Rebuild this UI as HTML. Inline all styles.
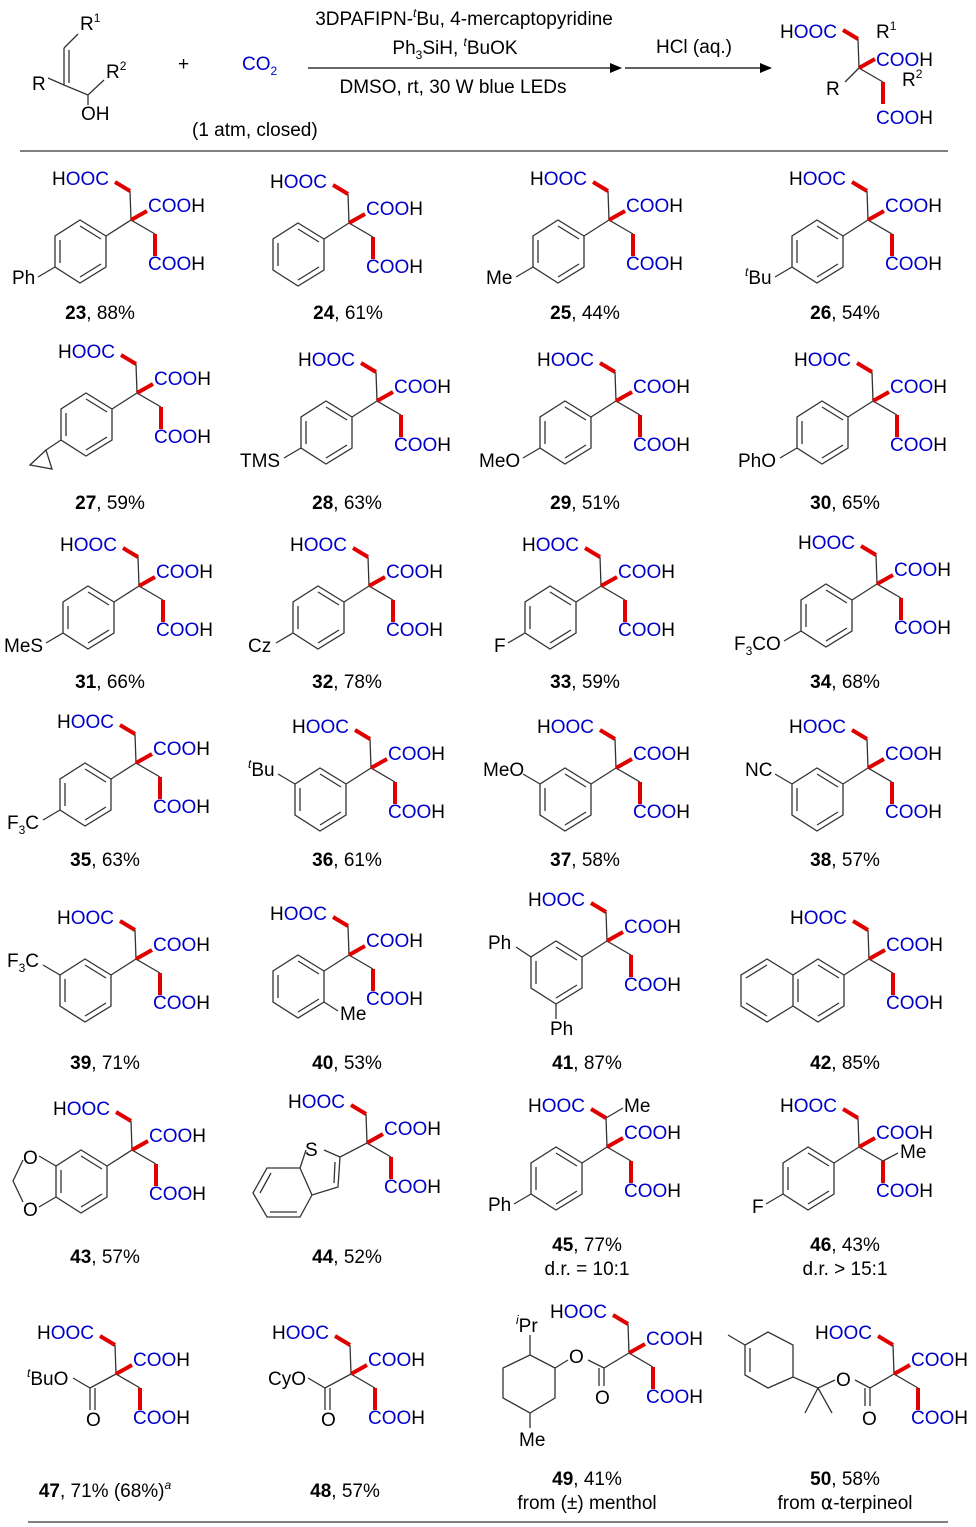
<!DOCTYPE html>
<html><head><meta charset="utf-8"><style>
html,body{margin:0;padding:0;background:#fff;}
svg{display:block;font-family:"Liberation Sans",Arial,sans-serif;}
.t{font-size:19px;fill:#000;}
.b{fill:#0000cc;}
.k{fill:#000;}
.lab{font-size:19px;fill:#000;text-anchor:middle;}
.g{stroke:#333;stroke-width:1.3;fill:none;}
.r{stroke:#e00000;stroke-width:4;fill:none;}
</style></head><body>
<svg width="976" height="1527" viewBox="0 0 976 1527" xmlns="http://www.w3.org/2000/svg">
<defs>
<g id="k">
<path class="r" d="M115 182 L130 191"/>
<path class="g" d="M130 191 L131 220 L155 234"/>
<path class="r" d="M131 220 L147 211"/>
<path class="r" d="M155 234 L155 256"/>
</g>
<g id="ring">
<path class="g" d="M131 220 L106 236"/>
<path class="g" d="M106 236 L80 220 L55 236 L55 267 L80 283 L106 267 Z"/>
<path class="g" d="M80 226 L101 239 M60 240 L60 263 M80 277 L101 264"/>
</g>
<g id="para"><use href="#ring"/><path class="g" d="M55 267 L38 277"/></g>
<g id="meta"><use href="#ring"/><path class="g" d="M55 236 L38 226"/></g>
</defs>

<!-- header -->
<g class="t">
<path class="g" d="M64 48 L64 85 M69 50 L69 83"/>
<path class="g" d="M64 48 L70 42 Q74 38 78 34"/>
<path class="g" d="M64 85 L48 78 M64 85 L88 95 L104 80 M88 95 L88 105"/>
<text x="80" y="30">R<tspan font-size="12" dy="-8">1</tspan></text>
<text x="106" y="78">R<tspan font-size="12" dy="-8">2</tspan></text>
<text x="32" y="90">R</text>
<text x="81" y="120">OH</text>
<text x="178" y="70">+</text>
<text x="242" y="70" class="b">CO<tspan font-size="12" dy="5">2</tspan></text>
<text x="192" y="136">(1 atm, closed)</text>
<text x="464" y="25" text-anchor="middle">3DPAFIPN-<tspan font-size="12" dy="-8" font-style="italic">t</tspan><tspan dy="8">Bu, 4-mercaptopyridine</tspan></text>
<text x="455" y="54" text-anchor="middle">Ph<tspan font-size="12" dy="5">3</tspan><tspan dy="-5">SiH, </tspan><tspan font-size="12" dy="-8" font-style="italic">t</tspan><tspan dy="8">BuOK</tspan></text>
<text x="453" y="93" text-anchor="middle">DMSO, rt, 30 W blue LEDs</text>
<path d="M308 68 L612 68" stroke="#666" stroke-width="2"/>
<path d="M622 68 L610 63 L610 73 Z" fill="#000"/>
<text x="694" y="53" text-anchor="middle">HCl (aq.)</text>
<path d="M625 68 L762 68" stroke="#000" stroke-width="1.3"/>
<path d="M772 68 L760 63 L760 73 Z" fill="#000"/>
<g transform="translate(728,-152)"><use href="#k"/></g>
<text x="780" y="38"><tspan class="k">H</tspan><tspan class="b">OOC</tspan></text>
<text x="876" y="38">R<tspan font-size="12" dy="-8">1</tspan></text>
<text x="876" y="66" class="b">COO<tspan class="k">H</tspan></text>
<path class="g" d="M859 68 L845 82"/>
<text x="826" y="95">R</text>
<text x="902" y="86">R<tspan font-size="12" dy="-8">2</tspan></text>
<text x="876" y="124" class="b">COO<tspan class="k">H</tspan></text>
</g>
<path d="M20 151 L948 151" stroke="#000" stroke-width="1"/>
<path d="M28 1522 L948 1522" stroke="#000" stroke-width="1"/>

<!-- row1 -->
<g transform="translate(0,0)" class="t"><use href="#k"/><use href="#para"/>
<text x="52" y="185"><tspan class="k">H</tspan><tspan class="b">OOC</tspan></text>
<text x="148" y="212" class="b">COO<tspan class="k">H</tspan></text>
<text x="148" y="270" class="b">COO<tspan class="k">H</tspan></text>
<text x="12" y="284">Ph</text></g>
<text class="lab" x="100" y="319"><tspan font-weight="bold">23</tspan>, 88%</text>

<g transform="translate(218,3)" class="t"><use href="#k"/><use href="#ring"/>
<text x="52" y="185"><tspan class="k">H</tspan><tspan class="b">OOC</tspan></text>
<text x="148" y="212" class="b">COO<tspan class="k">H</tspan></text>
<text x="148" y="270" class="b">COO<tspan class="k">H</tspan></text></g>
<text class="lab" x="348" y="319"><tspan font-weight="bold">24</tspan>, 61%</text>

<g transform="translate(478,0)" class="t"><use href="#k"/><use href="#para"/>
<text x="52" y="185"><tspan class="k">H</tspan><tspan class="b">OOC</tspan></text>
<text x="148" y="212" class="b">COO<tspan class="k">H</tspan></text>
<text x="148" y="270" class="b">COO<tspan class="k">H</tspan></text>
<text x="8" y="284">Me</text></g>
<text class="lab" x="585" y="319"><tspan font-weight="bold">25</tspan>, 44%</text>

<g transform="translate(737,0)" class="t"><use href="#k"/><use href="#para"/>
<text x="52" y="185"><tspan class="k">H</tspan><tspan class="b">OOC</tspan></text>
<text x="148" y="212" class="b">COO<tspan class="k">H</tspan></text>
<text x="148" y="270" class="b">COO<tspan class="k">H</tspan></text>
<text x="8" y="284"><tspan font-size="12" dy="-8" font-style="italic">t</tspan><tspan dy="8">Bu</tspan></text></g>
<text class="lab" x="845" y="319"><tspan font-weight="bold">26</tspan>, 54%</text>

<!-- row2 -->
<g transform="translate(6,173)" class="t"><use href="#k"/><use href="#ring"/>
<path class="g" d="M55 267 L40 277 M40 277 L24 292 L46 296 Z"/>
<text x="52" y="185"><tspan class="k">H</tspan><tspan class="b">OOC</tspan></text>
<text x="148" y="212" class="b">COO<tspan class="k">H</tspan></text>
<text x="148" y="270" class="b">COO<tspan class="k">H</tspan></text></g>
<text class="lab" x="110" y="509"><tspan font-weight="bold">27</tspan>, 59%</text>

<g transform="translate(246,181)" class="t"><use href="#k"/><use href="#para"/>
<text x="52" y="185"><tspan class="k">H</tspan><tspan class="b">OOC</tspan></text>
<text x="148" y="212" class="b">COO<tspan class="k">H</tspan></text>
<text x="148" y="270" class="b">COO<tspan class="k">H</tspan></text>
<text x="-6" y="286">TMS</text></g>
<text class="lab" x="347" y="509"><tspan font-weight="bold">28</tspan>, 63%</text>

<g transform="translate(485,181)" class="t"><use href="#k"/><use href="#para"/>
<text x="52" y="185"><tspan class="k">H</tspan><tspan class="b">OOC</tspan></text>
<text x="148" y="212" class="b">COO<tspan class="k">H</tspan></text>
<text x="148" y="270" class="b">COO<tspan class="k">H</tspan></text>
<text x="-6" y="286">MeO</text></g>
<text class="lab" x="585" y="509"><tspan font-weight="bold">29</tspan>, 51%</text>

<g transform="translate(742,181)" class="t"><use href="#k"/><use href="#para"/>
<text x="52" y="185"><tspan class="k">H</tspan><tspan class="b">OOC</tspan></text>
<text x="148" y="212" class="b">COO<tspan class="k">H</tspan></text>
<text x="148" y="270" class="b">COO<tspan class="k">H</tspan></text>
<text x="-4" y="286">PhO</text></g>
<text class="lab" x="845" y="509"><tspan font-weight="bold">30</tspan>, 65%</text>

<!-- row3 -->
<g transform="translate(8,366)" class="t"><use href="#k"/><use href="#para"/>
<text x="52" y="185"><tspan class="k">H</tspan><tspan class="b">OOC</tspan></text>
<text x="148" y="212" class="b">COO<tspan class="k">H</tspan></text>
<text x="148" y="270" class="b">COO<tspan class="k">H</tspan></text>
<text x="-4" y="286">MeS</text></g>
<text class="lab" x="110" y="688"><tspan font-weight="bold">31</tspan>, 66%</text>

<g transform="translate(238,366)" class="t"><use href="#k"/><use href="#para"/>
<text x="52" y="185"><tspan class="k">H</tspan><tspan class="b">OOC</tspan></text>
<text x="148" y="212" class="b">COO<tspan class="k">H</tspan></text>
<text x="148" y="270" class="b">COO<tspan class="k">H</tspan></text>
<text x="10" y="286">Cz</text></g>
<text class="lab" x="347" y="688"><tspan font-weight="bold">32</tspan>, 78%</text>

<g transform="translate(470,366)" class="t"><use href="#k"/><use href="#para"/>
<text x="52" y="185"><tspan class="k">H</tspan><tspan class="b">OOC</tspan></text>
<text x="148" y="212" class="b">COO<tspan class="k">H</tspan></text>
<text x="148" y="270" class="b">COO<tspan class="k">H</tspan></text>
<text x="24" y="286">F</text></g>
<text class="lab" x="585" y="688"><tspan font-weight="bold">33</tspan>, 59%</text>

<g transform="translate(746,364)" class="t"><use href="#k"/><use href="#para"/>
<text x="52" y="185"><tspan class="k">H</tspan><tspan class="b">OOC</tspan></text>
<text x="148" y="212" class="b">COO<tspan class="k">H</tspan></text>
<text x="148" y="270" class="b">COO<tspan class="k">H</tspan></text>
<text x="-12" y="286">F<tspan font-size="12" dy="5">3</tspan><tspan dy="-5">CO</tspan></text></g>
<text class="lab" x="845" y="688"><tspan font-weight="bold">34</tspan>, 68%</text>

<!-- row4 -->
<g transform="translate(5,543)" class="t"><use href="#k"/><use href="#para"/>
<text x="52" y="185"><tspan class="k">H</tspan><tspan class="b">OOC</tspan></text>
<text x="148" y="212" class="b">COO<tspan class="k">H</tspan></text>
<text x="148" y="270" class="b">COO<tspan class="k">H</tspan></text>
<text x="2" y="286">F<tspan font-size="12" dy="5">3</tspan><tspan dy="-5">C</tspan></text></g>
<text class="lab" x="105" y="866"><tspan font-weight="bold">35</tspan>, 63%</text>

<g transform="translate(240,548)" class="t"><use href="#k"/><use href="#meta"/>
<text x="52" y="185"><tspan class="k">H</tspan><tspan class="b">OOC</tspan></text>
<text x="148" y="212" class="b">COO<tspan class="k">H</tspan></text>
<text x="148" y="270" class="b">COO<tspan class="k">H</tspan></text>
<text x="8" y="228"><tspan font-size="12" dy="-8" font-style="italic">t</tspan><tspan dy="8">Bu</tspan></text></g>
<text class="lab" x="347" y="866"><tspan font-weight="bold">36</tspan>, 61%</text>

<g transform="translate(485,548)" class="t"><use href="#k"/><use href="#meta"/>
<text x="52" y="185"><tspan class="k">H</tspan><tspan class="b">OOC</tspan></text>
<text x="148" y="212" class="b">COO<tspan class="k">H</tspan></text>
<text x="148" y="270" class="b">COO<tspan class="k">H</tspan></text>
<text x="-2" y="228">MeO</text></g>
<text class="lab" x="585" y="866"><tspan font-weight="bold">37</tspan>, 58%</text>

<g transform="translate(737,548)" class="t"><use href="#k"/><use href="#meta"/>
<text x="52" y="185"><tspan class="k">H</tspan><tspan class="b">OOC</tspan></text>
<text x="148" y="212" class="b">COO<tspan class="k">H</tspan></text>
<text x="148" y="270" class="b">COO<tspan class="k">H</tspan></text>
<text x="8" y="228">NC</text></g>
<text class="lab" x="845" y="866"><tspan font-weight="bold">38</tspan>, 57%</text>

<!-- row5 -->
<g transform="translate(5,739)" class="t"><use href="#k"/><use href="#meta"/>
<text x="52" y="185"><tspan class="k">H</tspan><tspan class="b">OOC</tspan></text>
<text x="148" y="212" class="b">COO<tspan class="k">H</tspan></text>
<text x="148" y="270" class="b">COO<tspan class="k">H</tspan></text>
<text x="2" y="228">F<tspan font-size="12" dy="5">3</tspan><tspan dy="-5">C</tspan></text></g>
<text class="lab" x="105" y="1069"><tspan font-weight="bold">39</tspan>, 71%</text>

<g transform="translate(218,735)" class="t"><use href="#k"/><use href="#ring"/>
<path class="g" d="M106 267 L120 276"/>
<text x="52" y="185"><tspan class="k">H</tspan><tspan class="b">OOC</tspan></text>
<text x="148" y="212" class="b">COO<tspan class="k">H</tspan></text>
<text x="148" y="270" class="b">COO<tspan class="k">H</tspan></text>
<text x="122" y="285">Me</text></g>
<text class="lab" x="347" y="1069"><tspan font-weight="bold">40</tspan>, 53%</text>

<g transform="translate(476,721)" class="t"><use href="#k"/><use href="#ring"/>
<path class="g" d="M55 236 L40 226 M80 283 L80 298"/>
<text x="52" y="185"><tspan class="k">H</tspan><tspan class="b">OOC</tspan></text>
<text x="148" y="212" class="b">COO<tspan class="k">H</tspan></text>
<text x="148" y="270" class="b">COO<tspan class="k">H</tspan></text>
<text x="12" y="228">Ph</text>
<text x="74" y="314">Ph</text></g>
<text class="lab" x="587" y="1069"><tspan font-weight="bold">41</tspan>, 87%</text>

<g transform="translate(738,739)" class="t"><use href="#k"/><use href="#ring"/>
<path class="g" d="M55 236 L29 220 L3 236 L3 267 L29 283 L55 267 M29 226 L8 239 M29 277 L8 264"/>
<text x="52" y="185"><tspan class="k">H</tspan><tspan class="b">OOC</tspan></text>
<text x="148" y="212" class="b">COO<tspan class="k">H</tspan></text>
<text x="148" y="270" class="b">COO<tspan class="k">H</tspan></text></g>
<text class="lab" x="845" y="1069"><tspan font-weight="bold">42</tspan>, 85%</text>

<!-- row6 -->
<g transform="translate(1,930)" class="t"><use href="#k"/><use href="#ring"/>
<path class="g" d="M55 236 L38 226 M55 267 L38 277 M22 230 L12 251 L22 272"/>
<text x="52" y="185"><tspan class="k">H</tspan><tspan class="b">OOC</tspan></text>
<text x="148" y="212" class="b">COO<tspan class="k">H</tspan></text>
<text x="148" y="270" class="b">COO<tspan class="k">H</tspan></text>
<text x="22" y="234">O</text><text x="22" y="286">O</text></g>
<text class="lab" x="105" y="1263"><tspan font-weight="bold">43</tspan>, 57%</text>

<g transform="translate(236,923)" class="t"><use href="#k"/>
<text x="52" y="185"><tspan class="k">H</tspan><tspan class="b">OOC</tspan></text>
<text x="148" y="212" class="b">COO<tspan class="k">H</tspan></text>
<text x="148" y="270" class="b">COO<tspan class="k">H</tspan></text></g>
<path class="g" d="M367 1143 L340 1157 L338 1187 L312 1195 L300 1168 M340 1157 L324 1150 M306 1150 L300 1168 M335 1162 L334 1183 M300 1168 L267 1168 L253 1193 L267 1217 L300 1217 L312 1195 M271 1173 L260 1193 M270 1212 L297 1212"/>
<text x="305" y="1156" class="t">S</text>
<text class="lab" x="347" y="1263"><tspan font-weight="bold">44</tspan>, 52%</text>

<g transform="translate(476,927)" class="t"><use href="#k"/><use href="#para"/>
<path class="g" d="M130 191 L147 181"/>
<text x="52" y="185"><tspan class="k">H</tspan><tspan class="b">OOC</tspan></text>
<text x="148" y="185">Me</text>
<text x="148" y="212" class="b">COO<tspan class="k">H</tspan></text>
<text x="148" y="270" class="b">COO<tspan class="k">H</tspan></text>
<text x="12" y="284">Ph</text></g>
<text class="lab" x="587" y="1251"><tspan font-weight="bold">45</tspan>, 77%</text>
<text class="lab" x="587" y="1275">d.r. = 10:1</text>

<g transform="translate(728,927)" class="t"><use href="#k"/><use href="#para"/>
<path class="g" d="M155 234 L170 226"/>
<text x="52" y="185"><tspan class="k">H</tspan><tspan class="b">OOC</tspan></text>
<text x="148" y="212" class="b">COO<tspan class="k">H</tspan></text>
<text x="172" y="231">Me</text>
<text x="148" y="270" class="b">COO<tspan class="k">H</tspan></text>
<text x="24" y="286">F</text></g>
<text class="lab" x="845" y="1251"><tspan font-weight="bold">46</tspan>, 43%</text>
<text class="lab" x="845" y="1275">d.r. &gt; 15:1</text>

<!-- row7 esters -->
<g transform="translate(-15,1154)" class="t"><use href="#k"/>
<path class="g" d="M131 220 L105 234 L88 224 M105 234 L105 256 M110 234 L110 256"/>
<text x="52" y="185"><tspan class="k">H</tspan><tspan class="b">OOC</tspan></text>
<text x="148" y="212" class="b">COO<tspan class="k">H</tspan></text>
<text x="148" y="270" class="b">COO<tspan class="k">H</tspan></text>
<text x="42" y="231"><tspan font-size="12" dy="-8" font-style="italic">t</tspan><tspan dy="8">BuO</tspan></text>
<text x="101" y="272">O</text></g>
<text class="lab" x="105" y="1497"><tspan font-weight="bold">47</tspan>, 71% (68%)<tspan font-size="12" dy="-8" font-style="italic">a</tspan></text>

<g transform="translate(220,1154)" class="t"><use href="#k"/>
<path class="g" d="M131 220 L105 234 L88 224 M105 234 L105 256 M110 234 L110 256"/>
<text x="52" y="185"><tspan class="k">H</tspan><tspan class="b">OOC</tspan></text>
<text x="148" y="212" class="b">COO<tspan class="k">H</tspan></text>
<text x="148" y="270" class="b">COO<tspan class="k">H</tspan></text>
<text x="48" y="231">CyO</text>
<text x="101" y="272">O</text></g>
<text class="lab" x="345" y="1497"><tspan font-weight="bold">48</tspan>, 57%</text>

<g transform="translate(498,1133)" class="t"><use href="#k"/>
<text x="52" y="185"><tspan class="k">H</tspan><tspan class="b">OOC</tspan></text>
<text x="148" y="212" class="b">COO<tspan class="k">H</tspan></text>
<text x="148" y="270" class="b">COO<tspan class="k">H</tspan></text></g>
<path class="g" d="M629 1353 L604 1368 L588 1360 M604 1368 L604 1386 M599 1368 L599 1386 M568 1360 L555 1368 L530 1355 L503 1368 L503 1398 L530 1413 L555 1398 L555 1368 M530 1355 L530 1335 M530 1413 L530 1428"/>
<g class="t"><text x="569" y="1363">O</text><text x="595" y="1404">O</text>
<text x="516" y="1332"><tspan font-size="12" dy="-8" font-style="italic">i</tspan><tspan dy="8">Pr</tspan></text>
<text x="519" y="1446">Me</text></g>
<text class="lab" x="587" y="1485"><tspan font-weight="bold">49</tspan>, 41%</text>
<text class="lab" x="587" y="1509">from (±) menthol</text>

<g transform="translate(763,1154)" class="t"><use href="#k"/>
<text x="52" y="185"><tspan class="k">H</tspan><tspan class="b">OOC</tspan></text>
<text x="148" y="212" class="b">COO<tspan class="k">H</tspan></text>
<text x="148" y="270" class="b">COO<tspan class="k">H</tspan></text></g>
<path class="g" d="M894 1374 L870 1388 L855 1380 M870 1388 L870 1406 M865 1388 L865 1406 M835 1380 L818 1388 L805 1413 M818 1388 L832 1413 M818 1388 L793 1377 L793 1345 L768 1332 L745 1345 L745 1375 L768 1388 L793 1377 M750 1348 L750 1372 M745 1345 L728 1335"/>
<g class="t"><text x="836" y="1386">O</text><text x="862" y="1425">O</text></g>
<text class="lab" x="845" y="1485"><tspan font-weight="bold">50</tspan>, 58%</text>
<text class="lab" x="845" y="1509">from <tspan font-family="DejaVu Sans">α</tspan>-terpineol</text>
</svg>
</body></html>
